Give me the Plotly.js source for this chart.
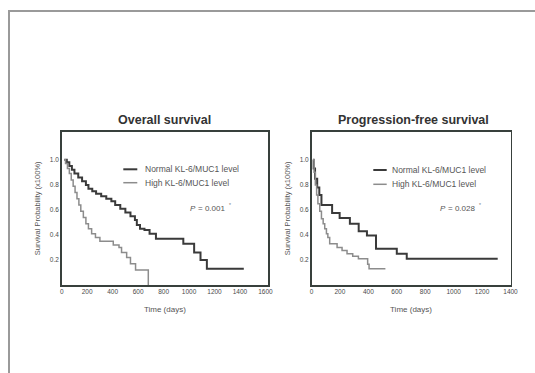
<!DOCTYPE html>
<html>
<head>
<meta charset="utf-8">
<script src="https://cdn.plot.ly/plotly-3.0.1.min.js"></script>
<style>html,body{margin:0;padding:0;background:#ffffff;}#chart{width:535px;height:373px;}</style>
</head>
<body>
<div id="chart"></div>
<script>
// Overall survival (days, survival probability)
var osNormalDays = [20, 40, 60, 80, 100, 130, 160, 190, 210, 240, 270, 310, 350, 390, 420, 460, 500, 540, 575, 590, 615, 650, 690, 740, 955, 1040, 1090, 1140, 1430];
var osNormalSurv = [1.0, 0.98, 0.95, 0.92, 0.89, 0.86, 0.83, 0.80, 0.77, 0.75, 0.73, 0.71, 0.69, 0.67, 0.64, 0.61, 0.58, 0.55, 0.52, 0.48, 0.45, 0.44, 0.41, 0.37, 0.33, 0.26, 0.20, 0.13, 0.13];
var osHighDays = [20, 30, 45, 60, 75, 90, 105, 120, 135, 150, 170, 190, 210, 235, 265, 300, 405, 450, 470, 510, 540, 580, 680];
var osHighSurv = [1.0, 0.97, 0.93, 0.89, 0.84, 0.79, 0.74, 0.69, 0.64, 0.59, 0.54, 0.49, 0.45, 0.41, 0.38, 0.35, 0.32, 0.30, 0.26, 0.22, 0.17, 0.12, 0.0];
// Progression-free survival
var pfsNormalDays = [10, 15, 25, 40, 55, 70, 145, 198, 270, 332, 390, 454, 600, 670, 1310];
var pfsNormalSurv = [1.0, 0.93, 0.85, 0.78, 0.72, 0.64, 0.575, 0.535, 0.49, 0.43, 0.395, 0.29, 0.25, 0.21, 0.21];
var pfsHighDays = [10, 18, 27, 36, 45, 58, 70, 82, 93, 105, 115, 128, 180, 215, 250, 290, 330, 395, 405, 520];
var pfsHighSurv = [1.0, 0.90, 0.80, 0.72, 0.65, 0.59, 0.53, 0.49, 0.45, 0.41, 0.38, 0.33, 0.30, 0.275, 0.25, 0.23, 0.21, 0.165, 0.13, 0.13];

var seriesNames = ["Normal KL-6/MUC1 level", "High KL-6/MUC1 level"];
var panelTitles = ["Overall survival", "Progression-free survival"];
var pValueTexts = ["= 0.001", "= 0.028"];
var xTitle = "Time (days)";
var yTitle = "Survival Probability (x100%)";
var yTickVals = [0.2, 0.4, 0.6, 0.8, 1.0];
var xTicksOS = [0, 200, 400, 600, 800, 1000, 1200, 1400, 1600];
var xTicksPFS = [0, 200, 400, 600, 800, 1000, 1200, 1400];

var normalColor = "#3a3a3a", highColor = "#8c8c8c";
var FONT = "Liberation Sans, Arial, sans-serif";

var traces = [
  {x: osNormalDays, y: osNormalSurv, xaxis: "x", yaxis: "y", name: seriesNames[0], mode: "lines", line: {shape: "hv", color: normalColor, width: 2}, showlegend: false},
  {x: osHighDays, y: osHighSurv, xaxis: "x", yaxis: "y", name: seriesNames[1], mode: "lines", line: {shape: "hv", color: highColor, width: 1.5}, showlegend: false},
  {x: pfsNormalDays, y: pfsNormalSurv, xaxis: "x2", yaxis: "y2", name: seriesNames[0], mode: "lines", line: {shape: "hv", color: normalColor, width: 2}, showlegend: false},
  {x: pfsHighDays, y: pfsHighSurv, xaxis: "x2", yaxis: "y2", name: seriesNames[1], mode: "lines", line: {shape: "hv", color: highColor, width: 1.5}, showlegend: false}
];

var W = 535, H = 373;
function px(v){ return v / W; }
function py(v){ return 1 - v / H; }

var axisLine = {showline: true, mirror: true, linecolor: "#38403c", linewidth: 1.5, showgrid: false, zeroline: false, ticks: "", tickfont: {family: FONT, size: 6.5, color: "#4a4a4a"}};
function xa(dom, range, ticks){
  return Object.assign({}, axisLine, {domain: dom, range: range, tickvals: ticks, ticktext: ticks.map(String), title: {text: xTitle, font: {family: FONT, size: 8, color: "#555"}, standoff: 12}});
}
function ya(anchor){
  return Object.assign({}, axisLine, {domain: [py(285), py(131.7)], range: [0, 1.225], anchor: anchor, tickvals: yTickVals, ticktext: yTickVals.map(function(v){return v.toFixed(1);}), title: {text: yTitle, font: {family: FONT, size: 7.5, color: "#555"}, standoff: 8}});
}

function ann(x, y, text, font, xanchor){
  return {xref: "paper", yref: "paper", x: px(x), y: py(y), text: text, showarrow: false, xanchor: xanchor || "center", yanchor: "middle", borderpad: 0, font: font};
}
var titleFont = {family: FONT, size: 12.5, color: "#333", weight: "bold"};
var legFont = {family: FONT, size: 8.5, color: "#555"};
var pFont = {family: FONT, size: 8, color: "#555"};
var pItalic = {family: FONT, size: 8, color: "#555", style: "italic"};
var starFont = {family: FONT, size: 5, color: "#777"};

var layout = {
  width: W, height: H,
  margin: {l: 0, r: 0, t: 0, b: 0},
  paper_bgcolor: "#ffffff", plot_bgcolor: "#ffffff",
  showlegend: false,
  xaxis: Object.assign(xa([px(61.7), px(268)], [0, 1620], xTicksOS), {anchor: "y"}),
  yaxis: ya("x"),
  xaxis2: Object.assign(xa([px(311.5), px(510.5)], [0, 1400], xTicksPFS), {anchor: "y2"}),
  yaxis2: ya("x2"),
  shapes: [
    {type: "rect", xref: "paper", yref: "paper", x0: px(9), x1: 1.05, y0: -0.05, y1: py(11), line: {color: "#9a9a9a", width: 2}},
    {type: "line", xref: "paper", yref: "paper", x0: px(123.3), x1: px(137.3), y0: py(169.3), y1: py(169.3), line: {color: normalColor, width: 2}},
    {type: "line", xref: "paper", yref: "paper", x0: px(123.3), x1: px(137.3), y0: py(182.7), y1: py(182.7), line: {color: highColor, width: 1.5}},
    {type: "line", xref: "paper", yref: "paper", x0: px(373.3), x1: px(386.7), y0: py(170), y1: py(170), line: {color: normalColor, width: 2}},
    {type: "line", xref: "paper", yref: "paper", x0: px(373.3), x1: px(386.7), y0: py(184.3), y1: py(184.3), line: {color: highColor, width: 1.5}}
  ],
  annotations: [
    ann(164, 120, panelTitles[0], titleFont),
    ann(413.8, 120, panelTitles[1], titleFont),
    ann(144, 169.3, seriesNames[0], legFont, "left"),
    ann(144, 182.7, seriesNames[1], legFont, "left"),
    ann(391, 170, seriesNames[0], legFont, "left"),
    ann(391, 184.3, seriesNames[1], legFont, "left"),
    ann(197, 208.3, "P", pItalic, "right"),
    ann(196.5, 208.3, pValueTexts[0], pFont, "left"),
    ann(228, 205, "*", starFont, "left"),
    ann(447, 208.3, "P", pItalic, "right"),
    ann(446.5, 208.3, pValueTexts[1], pFont, "left"),
    ann(478, 205, "*", starFont, "left")
  ]
};

Plotly.newPlot("chart", traces, layout, {displayModeBar: false, staticPlot: true});
</script>
</body>
</html>
